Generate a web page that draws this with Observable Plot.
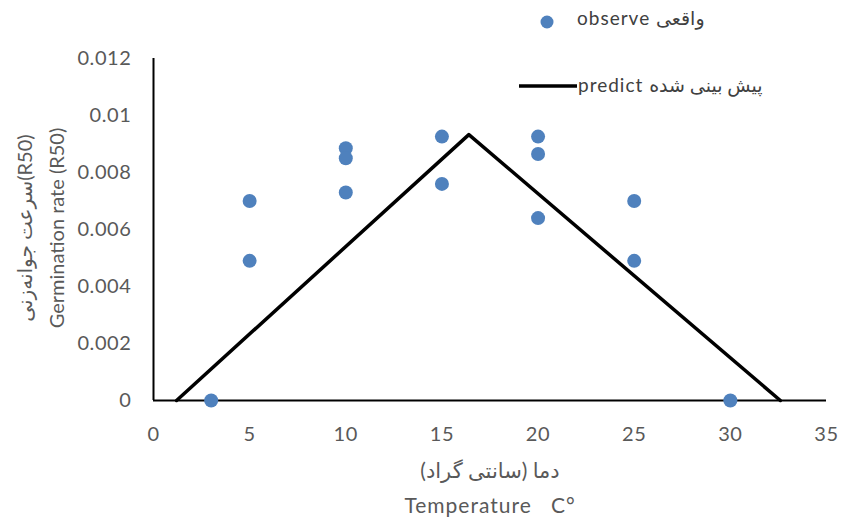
<!DOCTYPE html>
<html>
<head>
<meta charset="utf-8">
<script src="https://cdn.jsdelivr.net/npm/d3@7"></script>
<script src="https://cdn.jsdelivr.net/npm/@observablehq/plot@0.6"></script>
<style>
  body { margin: 0; background: #fff; }
  #wrap { position: relative; width: 842px; height: 520px; font-family: Lato, "DejaVu Sans", sans-serif; color: #595959; }
  .lbl { position: absolute; white-space: nowrap; }
</style>
</head>
<body>
<div id="wrap"></div>
<script>
// Observed germination rate
const obsTemp = [3, 5, 5, 10, 10, 10, 15, 15, 20, 20, 20, 25, 25, 30];
const obsRate = [0, 0.0070, 0.0049, 0.00885, 0.0085, 0.0073, 0.00926, 0.0076, 0.00926, 0.00865, 0.0064, 0.0070, 0.0049, 0];
// Predicted (segmented linear model)
const predTemp = [1.2, 16.4, 32.6];
const predRate = [0, 0.00933, 0];
// Ticks
const xTicks = [0, 5, 10, 15, 20, 25, 30, 35];
const yTicks = [0, 0.002, 0.004, 0.006, 0.008, 0.01, 0.012];

const obs = obsTemp.map((t, i) => ({t, r: obsRate[i]}));
const pred = predTemp.map((t, i) => ({t, r: predRate[i]}));

const chart = Plot.plot({
  width: 842,
  height: 450,
  marginLeft: 153,
  marginRight: 16,
  marginTop: 58,
  marginBottom: 50,
  style: {fontFamily: 'Lato, "DejaVu Sans", sans-serif', fontSize: "20px", color: "#595959", background: "white", letterSpacing: "0.6px"},
  x: {domain: [0, 35]},
  y: {domain: [0, 0.012]},
  marks: [
    Plot.axisX({ticks: xTicks, tickSize: 0, tickPadding: 26, label: null, fontSize: 20, fill: "#595959"}),
    Plot.axisY({ticks: yTicks, tickSize: 0, tickPadding: 22, label: null, fontSize: 20, fill: "#595959",
      tickFormat: d => String(+d.toFixed(3))}),
    Plot.ruleY([0], {stroke: "#000", strokeWidth: 2}),
    Plot.ruleX([0], {stroke: "#000", strokeWidth: 2}),
    Plot.line(pred, {x: "t", y: "r", stroke: "#000", strokeWidth: 3.5}),
    Plot.dot(obs, {x: "t", y: "r", r: 7, fill: "#4F81BD", stroke: "none"})
  ]
});
const wrap = document.getElementById("wrap");
wrap.appendChild(chart);

function addLabel(html, css) {
  const d = document.createElement("div");
  d.className = "lbl";
  d.innerHTML = html;
  Object.assign(d.style, css);
  wrap.appendChild(d);
  return d;
}

// Legend
addLabel('<svg width="16" height="16" style="vertical-align:middle"><circle cx="8" cy="8" r="6.5" fill="#4F81BD"/></svg>',
  {left: "539px", top: "10px"});
addLabel("observe واقعی", {left: "577px", top: "5px", fontSize: "19px", letterSpacing: "1px", color: "#404040", lineHeight: "26px"});
addLabel('<svg width="58" height="6"><line x1="0" y1="3" x2="58" y2="3" stroke="#000" stroke-width="3.5"/></svg>',
  {left: "519px", top: "83px", lineHeight: "0"});
addLabel("predict پیش بینی شده",
  {left: "578px", top: "72px", fontSize: "19px", letterSpacing: "1px", color: "#404040", lineHeight: "26px"});

// X axis title
addLabel("دما (سانتی گراد)<br>Temperature&nbsp;&nbsp; C°",
  {left: "490px", top: "452px", transform: "translateX(-50%)", textAlign: "center", fontSize: "21px", letterSpacing: "1px", lineHeight: "35px"});

// Y axis title (rotated)
addLabel("سرعت جوانه‌زنی(R50)<br>Germination rate (R50)",
  {left: "40px", top: "228px", transform: "translate(-50%,-50%) rotate(-90deg)", textAlign: "center", fontSize: "20px", lineHeight: "32px"});
</script>
</body>
</html>
